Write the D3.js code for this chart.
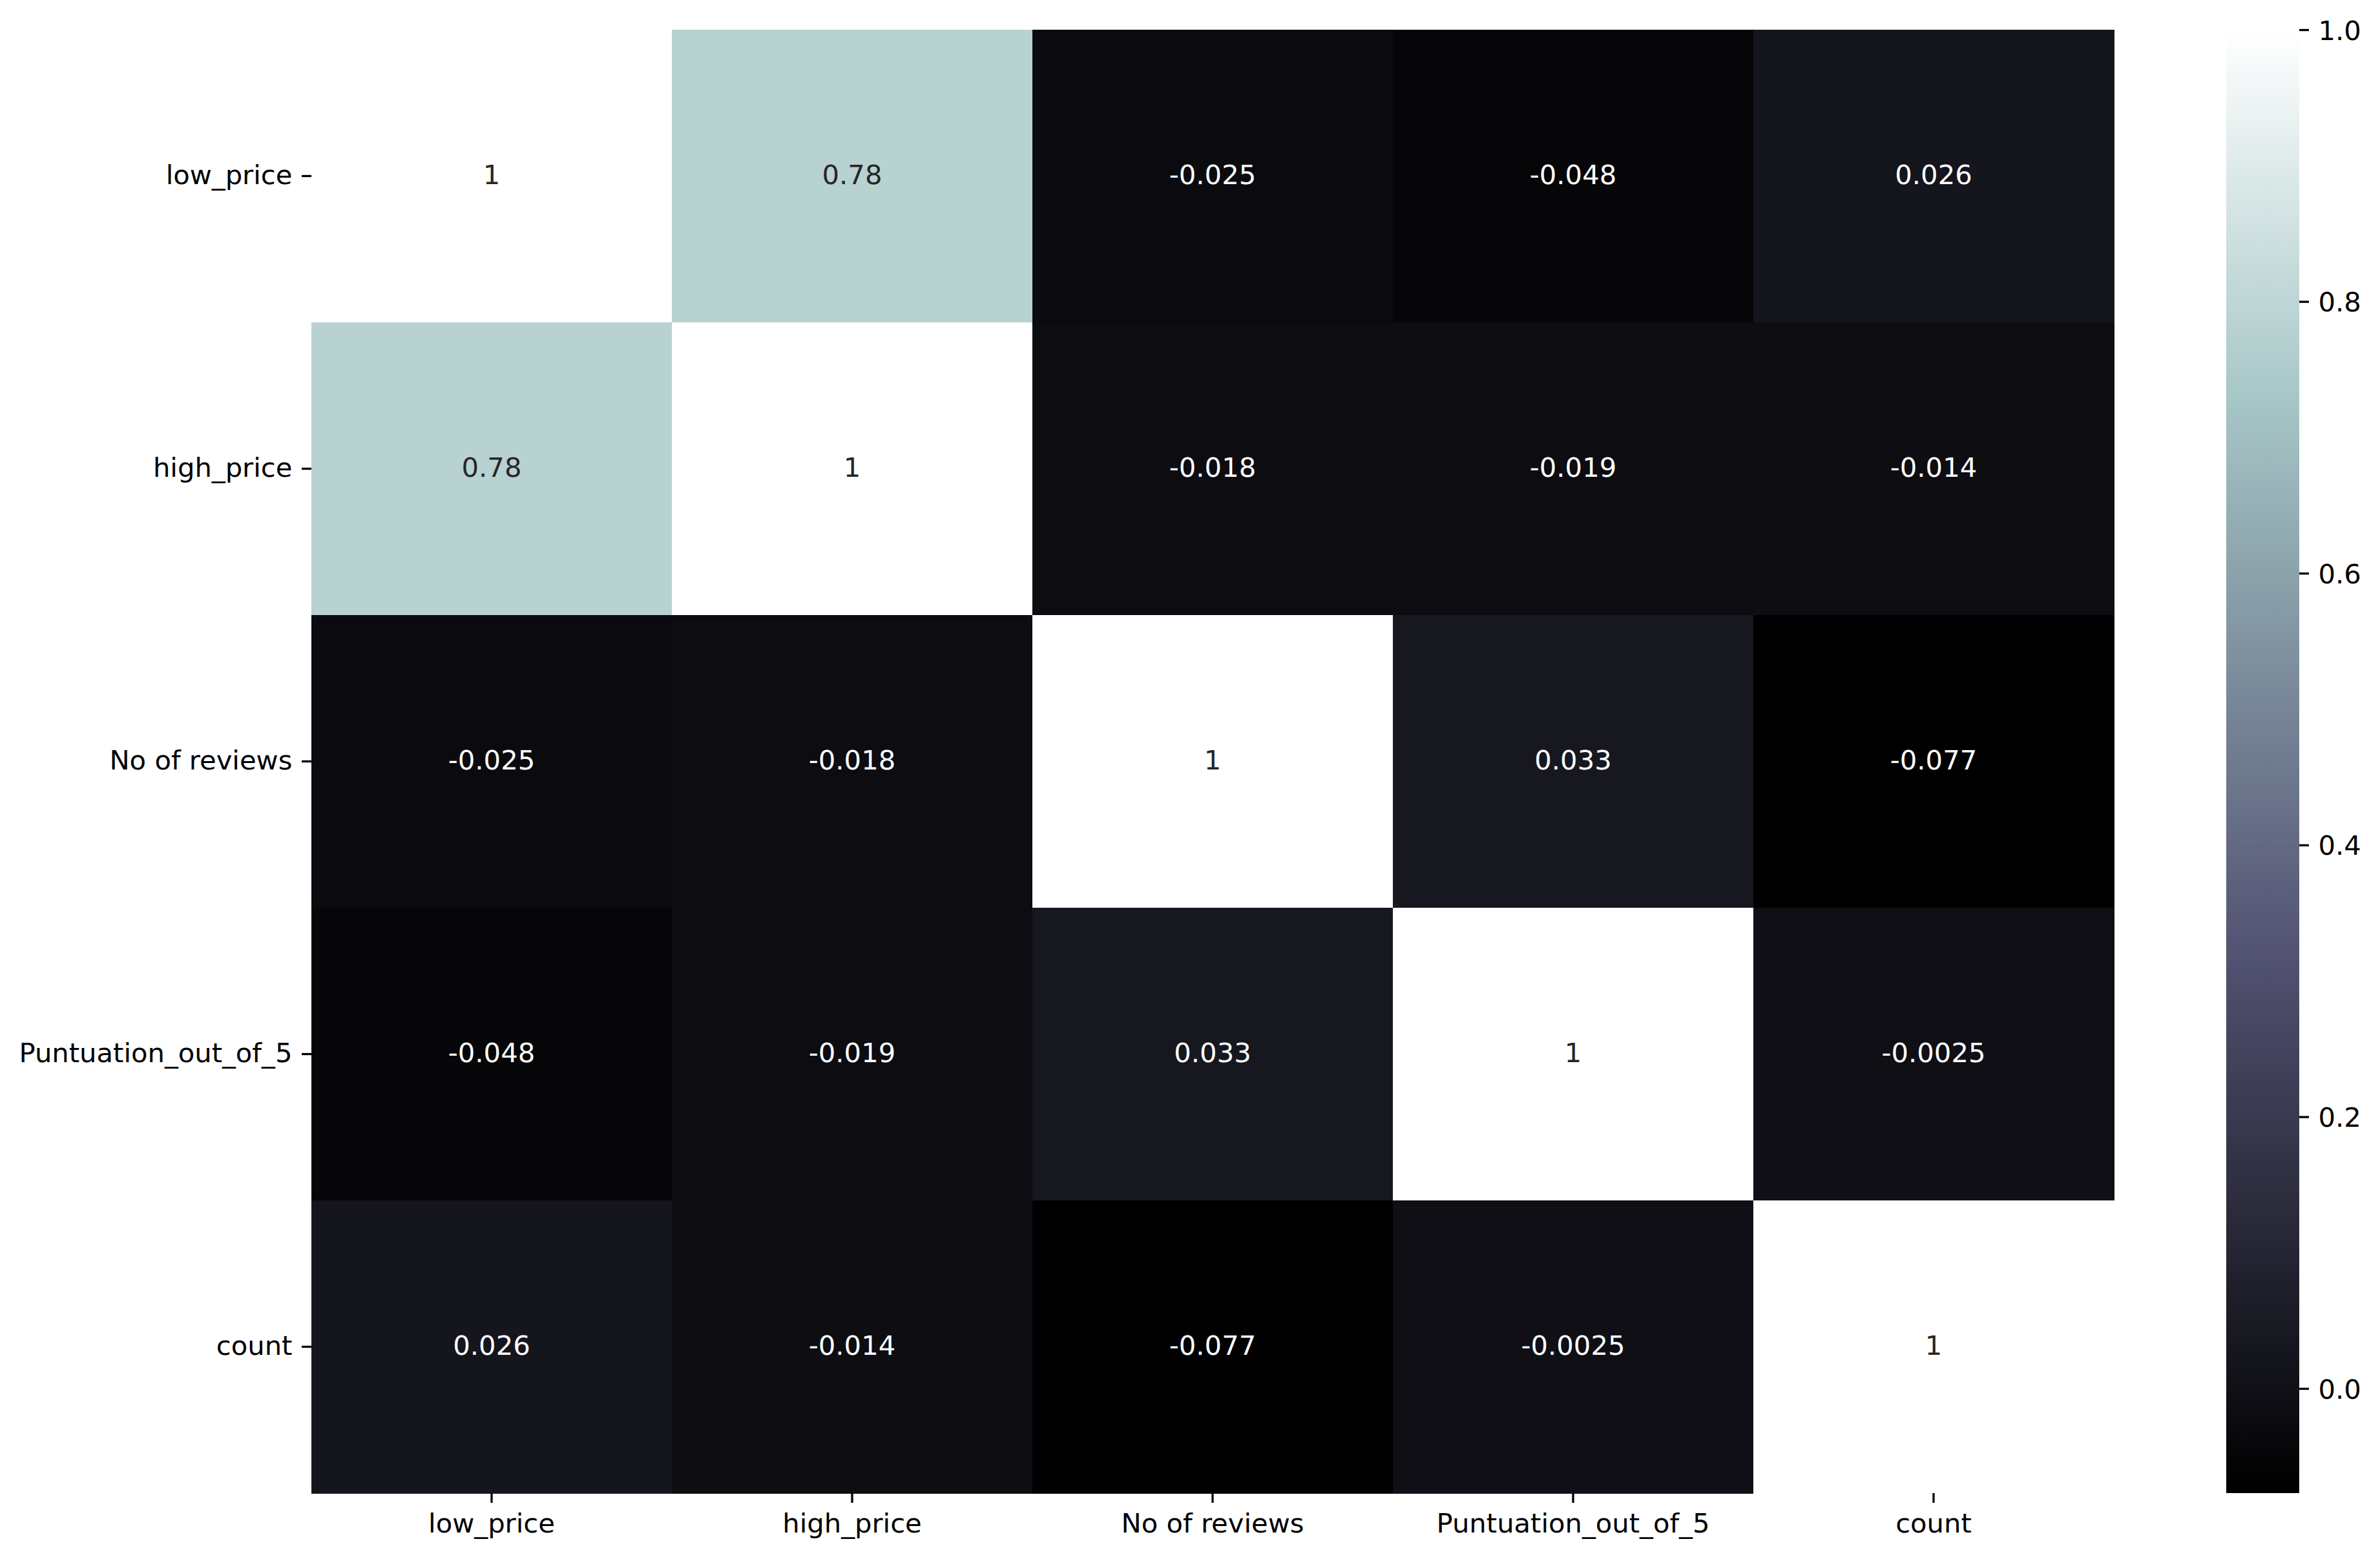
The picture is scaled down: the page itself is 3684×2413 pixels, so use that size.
<!DOCTYPE html>
<html>
<head>
<meta charset="utf-8">
<script src="https://cdn.jsdelivr.net/npm/d3@7"></script>
<style>
  html, body { margin: 0; padding: 0; background: #ffffff; }
  svg { display: block; font-family: "DejaVu Sans", sans-serif; }
</style>
</head>
<body>
<svg id="chart" width="3684" height="2413"></svg>
<script>
// ---------- data ----------
const categories = ["low_price", "high_price", "No of reviews", "Puntuation_out_of_5", "count"];
const rowLowPrice   = [1, 0.78, -0.025, -0.048, 0.026];
const rowHighPrice  = [0.78, 1, -0.018, -0.019, -0.014];
const rowNoReviews  = [-0.025, -0.018, 1, 0.033, -0.077];
const rowPuntuation = [-0.048, -0.019, 0.033, 1, -0.0025];
const rowCount      = [0.026, -0.014, -0.077, -0.0025, 1];
const annotLabels = [
  ["1", "0.78", "-0.025", "-0.048", "0.026"],
  ["0.78", "1", "-0.018", "-0.019", "-0.014"],
  ["-0.025", "-0.018", "1", "0.033", "-0.077"],
  ["-0.048", "-0.019", "0.033", "1", "-0.0025"],
  ["0.026", "-0.014", "-0.077", "-0.0025", "1"]
];
const colorbarTicks = [0.0, 0.2, 0.4, 0.6, 0.8, 1.0];
const colorbarTickLabels = ["0.0", "0.2", "0.4", "0.6", "0.8", "1.0"];

const matrix = [rowLowPrice, rowHighPrice, rowNoReviews, rowPuntuation, rowCount];
const cells = [];
matrix.forEach((row, i) => row.forEach((v, j) => cells.push({ r: categories[i], c: categories[j], v, label: annotLabels[i][j] })));

// ---------- layout ----------
const plotLeft = 482, plotRight = 3272, plotTop = 46, plotBottom = 2311;
const cbLeft = 3446, cbRight = 3559;
const fs = 41.7, tickLen = 15, pad = 14.6;

// ---------- bone colormap ----------
function seg(pts, t) {
  for (let k = 1; k < pts.length; k++) {
    if (t <= pts[k][0]) {
      const [x0, y0] = pts[k - 1], [x1, y1] = pts[k];
      return y0 + (y1 - y0) * (t - x0) / (x1 - x0);
    }
  }
  return pts[pts.length - 1][1];
}
const boneR = [[0, 0], [0.746032, 0.652778], [1, 1]];
const boneG = [[0, 0], [0.365079, 0.319444], [0.746032, 0.777778], [1, 1]];
const boneB = [[0, 0], [0.365079, 0.444444], [1, 1]];
function bone(t) {
  t = Math.max(0, Math.min(1, t));
  return [seg(boneR, t), seg(boneG, t), seg(boneB, t)];
}
const allVals = matrix.flat();
const vmin = d3.min(allVals), vmax = d3.max(allVals);
const norm = d3.scaleLinear().domain([vmin, vmax]).range([0, 1]);
function colorOf(v) {
  const [r, g, b] = bone(norm(v));
  return d3.rgb(r * 255, g * 255, b * 255).formatHex();
}
function lum(v) {
  const c = bone(norm(v)).map(x => x <= 0.03928 ? x / 12.92 : Math.pow((x + 0.055) / 1.055, 2.4));
  return 0.2126 * c[0] + 0.7152 * c[1] + 0.0722 * c[2];
}

// ---------- scales ----------
const x = d3.scaleBand().domain(categories).range([plotLeft, plotRight]).padding(0);
const y = d3.scaleBand().domain(categories).range([plotTop, plotBottom]).padding(0);
const cbScale = d3.scaleLinear().domain([vmin, vmax]).range([plotBottom, plotTop]);

const svg = d3.select("#chart");

// cells
svg.append("g").selectAll("rect").data(cells).join("rect")
  .attr("x", d => x(d.c)).attr("y", d => y(d.r))
  .attr("width", x.bandwidth() + 0.5).attr("height", y.bandwidth() + 0.5)
  .attr("fill", d => colorOf(d.v))
  .attr("shape-rendering", "crispEdges");

// annotations
svg.append("g").selectAll("text").data(cells).join("text")
  .attr("x", d => x(d.c) + x.bandwidth() / 2)
  .attr("y", d => y(d.r) + y.bandwidth() / 2 + 12)
  .attr("text-anchor", "middle")
  .attr("font-size", fs)
  .attr("fill", d => lum(d.v) > 0.408 ? "#262626" : "#ffffff")
  .text(d => d.label);

// x axis
const xAxis = d3.axisBottom(x).tickSize(tickLen).tickPadding(pad);
const gx = svg.append("g").attr("transform", `translate(0,${plotBottom})`).call(xAxis);
gx.select(".domain").remove();
gx.selectAll(".tick line").attr("stroke", "#000").attr("stroke-width", 3.3);
gx.selectAll(".tick text").attr("font-size", fs).attr("fill", "#000")
  .attr("font-family", "DejaVu Sans").attr("dy", "0.76em");

// y axis
const yAxis = d3.axisLeft(y).tickSize(tickLen).tickPadding(pad);
const gy = svg.append("g").attr("transform", `translate(${plotLeft},0)`).call(yAxis);
gy.select(".domain").remove();
gy.selectAll(".tick line").attr("stroke", "#000").attr("stroke-width", 3.3);
gy.selectAll(".tick text").attr("font-size", fs).attr("fill", "#000")
  .attr("font-family", "DejaVu Sans").attr("dy", "0.3em");

// colorbar gradient
const defs = svg.append("defs");
const grad = defs.append("linearGradient").attr("id", "cbgrad")
  .attr("x1", 0).attr("y1", 1).attr("x2", 0).attr("y2", 0);
d3.range(0, 1.0001, 0.01).forEach(t => {
  const [r, g, b] = bone(t);
  grad.append("stop").attr("offset", t).attr("stop-color", d3.rgb(r * 255, g * 255, b * 255).formatHex());
});
svg.append("rect").attr("x", cbLeft).attr("y", plotTop)
  .attr("width", cbRight - cbLeft).attr("height", plotBottom - plotTop)
  .attr("fill", "url(#cbgrad)");

const cbAxis = d3.axisRight(cbScale).tickValues(colorbarTicks)
  .tickFormat((d, i) => colorbarTickLabels[i]).tickSize(tickLen).tickPadding(pad);
const gc = svg.append("g").attr("transform", `translate(${cbRight},0)`).call(cbAxis);
gc.select(".domain").remove();
gc.selectAll(".tick line").attr("stroke", "#000").attr("stroke-width", 3.3);
gc.selectAll(".tick text").attr("font-size", fs).attr("fill", "#000")
  .attr("font-family", "DejaVu Sans").attr("dy", "0.36em");
</script>
</body>
</html>
